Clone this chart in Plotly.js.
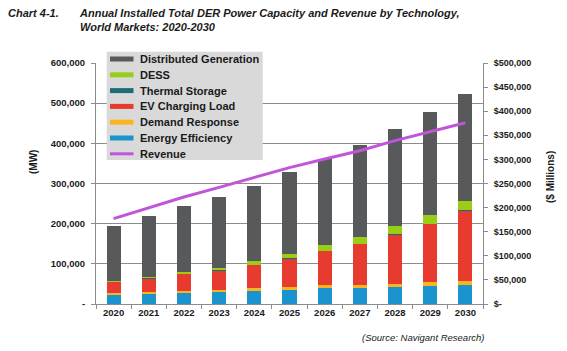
<!DOCTYPE html>
<html>
<head>
<meta charset="utf-8">
<script src="https://cdn.plot.ly/plotly-3.0.1.min.js"></script>
<style>html,body{margin:0;padding:0;background:#fff;}#chart{width:567px;height:351px;}</style>
</head>
<body>
<div id="chart"></div>
<script>
// Data (MW, and $ millions for revenue)
var years = ["2020","2021","2022","2023","2024","2025","2026","2027","2028","2029","2030"];
var energyEfficiency = [22000, 24000, 28000, 29000, 32000, 35000, 40000, 40000, 42000, 46000, 48000];
var demandResponse   = [5000, 5000, 5000, 7000, 7500, 7500, 8000, 8000, 8000, 8000, 10000];
var evChargingLoad   = [27000, 34000, 41000, 47000, 57000, 70000, 83000, 101000, 123000, 145000, 174000];
var thermalStorage   = [1000, 1000, 1000, 1000, 1000, 1000, 1000, 1000, 1000, 1000, 1000];
var dess             = [2000, 3000, 5000, 6500, 9000, 12000, 16000, 18000, 19000, 22000, 24000];
var distributedGen   = [138000, 151000, 163000, 175000, 188000, 202000, 213000, 228000, 242000, 255000, 265000];
var revenue          = [177000, 200000, 222000, 242000, 263000, 283000, 301000, 318000, 339000, 358000, 376000];

var leftTicks = [0, 100000, 200000, 300000, 400000, 500000, 600000];
var leftLabels = ["-", "100,000", "200,000", "300,000", "400,000", "500,000", "600,000"];
var rightTicks = [0, 50000, 100000, 150000, 200000, 250000, 300000, 350000, 400000, 450000, 500000];
var rightLabels = ["$-", "$50,000", "$100,000", "$150,000", "$200,000", "$250,000", "$300,000", "$350,000", "$400,000", "$450,000", "$500,000"];

var legendNames = ["Distributed Generation", "DESS", "Thermal Storage", "EV Charging Load", "Demand Response", "Energy Efficiency", "Revenue"];

var colors = {
  "Distributed Generation": "#58595b", "DESS": "#9acd18", "Thermal Storage": "#1f6b78",
  "EV Charging Load": "#e63b2e", "Demand Response": "#f9b51e", "Energy Efficiency": "#1a93cf",
  "Revenue": "#c154d8"
};

function bar(name, y) {
  return {type: "bar", name: name, x: years, y: y, marker: {color: colors[name], line: {width: 0}},
          showlegend: false};
}

var traces = [
  bar("Energy Efficiency", energyEfficiency),
  bar("Demand Response", demandResponse),
  bar("EV Charging Load", evChargingLoad),
  bar("Thermal Storage", thermalStorage),
  bar("DESS", dess),
  bar("Distributed Generation", distributedGen),
  {type: "scatter", mode: "lines", name: "Revenue", x: years, y: revenue, yaxis: "y2",
   line: {color: colors["Revenue"], width: 3}, showlegend: false}
];

// plot area geometry helpers (pixel -> paper)
var L = 96, T = 63, W = 387, H = 241;
function px(x) { return (x - L) / W; }
function py(y) { return (T + H - y) / H; }

var F = "Liberation Sans, Arial, sans-serif";
var ink = "#1a1a1a";

var shapes = [
  {type: "rect", xref: "paper", yref: "paper", x0: px(106.7), x1: px(262.7), y0: py(51.7), y1: py(160),
   fillcolor: "#d9d9d9", line: {width: 0}, layer: "above"}
];
var annotations = [
  {text: "<b><i>Chart 4-1.</i></b>", xref: "paper", yref: "paper", x: px(6), y: py(5),
   xanchor: "left", yanchor: "top", showarrow: false, font: {family: F, size: 11, color: ink}},
  {text: "<b><i>Annual Installed Total DER Power Capacity and Revenue by Technology,<br>World Markets: 2020-2030</i></b>",
   xref: "paper", yref: "paper", x: px(77), y: py(5), xanchor: "left", yanchor: "top", align: "left",
   showarrow: false, font: {family: F, size: 11, color: ink}},
  {text: "<b>(MW)</b>", xref: "paper", yref: "paper", x: px(33), y: py(162), textangle: -90,
   xanchor: "center", yanchor: "middle", showarrow: false, font: {family: F, size: 10, color: ink}},
  {text: "<b>($ Millions)</b>", xref: "paper", yref: "paper", x: px(550), y: py(177), textangle: -90,
   xanchor: "center", yanchor: "middle", showarrow: false, font: {family: F, size: 10, color: ink}},
  {text: "<i>(Source: Navigant Research)</i>", xref: "paper", yref: "paper", x: px(360), y: py(337),
   xanchor: "left", yanchor: "middle", showarrow: false, font: {family: F, size: 9.5, color: ink}}
];
legendNames.forEach(function (name, i) {
  var yc = 59 + i * 15.8;
  shapes.push({type: "line", xref: "paper", yref: "paper", x0: px(110), x1: px(133.5), y0: py(yc), y1: py(yc),
               line: {color: colors[name], width: name === "Revenue" ? 3 : 5}, layer: "above"});
  annotations.push({text: "<b>" + name + "</b>", xref: "paper", yref: "paper", x: px(137.5), y: py(yc),
                    xanchor: "left", yanchor: "middle", showarrow: false,
                    font: {family: F, size: 11, color: ink}});
});

var layout = {
  width: 567, height: 351,
  margin: {l: L, r: 567 - L - W, t: T, b: 351 - T - H, pad: 0},
  paper_bgcolor: "#ffffff", plot_bgcolor: "#ffffff",
  barmode: "stack", bargap: 0.6,
  font: {family: F, size: 9, color: ink},
  showlegend: false,
  xaxis: {type: "category", showline: true, linecolor: "#8c8c8c", linewidth: 1,
          ticks: "outside", tickson: "boundaries", ticklen: 4, tickcolor: "#8c8c8c",
          tickfont: {family: F, size: 9.5, color: ink, weight: "bold"}, showgrid: false, fixedrange: true},
  yaxis: {range: [0, 600000], tickvals: leftTicks, ticktext: leftLabels, showline: true,
          linecolor: "#8c8c8c", linewidth: 1, ticks: "outside", ticklen: 4, tickcolor: "#8c8c8c",
          showgrid: true, gridcolor: "#8c8c8c", gridwidth: 1, zeroline: false,
          tickfont: {family: F, size: 9.5, color: ink, weight: "bold"}, ticklabelstandoff: 4},
  yaxis2: {overlaying: "y", side: "right", range: [0, 500000], tickvals: rightTicks, ticktext: rightLabels,
           showline: true, linecolor: "#8c8c8c", linewidth: 1, ticks: "outside", ticklen: 4, tickcolor: "#8c8c8c",
           showgrid: false, zeroline: false,
           tickfont: {family: F, size: 9, color: ink, weight: "bold"}, ticklabelstandoff: 4},
  shapes: shapes,
  annotations: annotations
};

Plotly.newPlot("chart", traces, layout, {displayModeBar: false, staticPlot: true});
</script>
</body>
</html>
